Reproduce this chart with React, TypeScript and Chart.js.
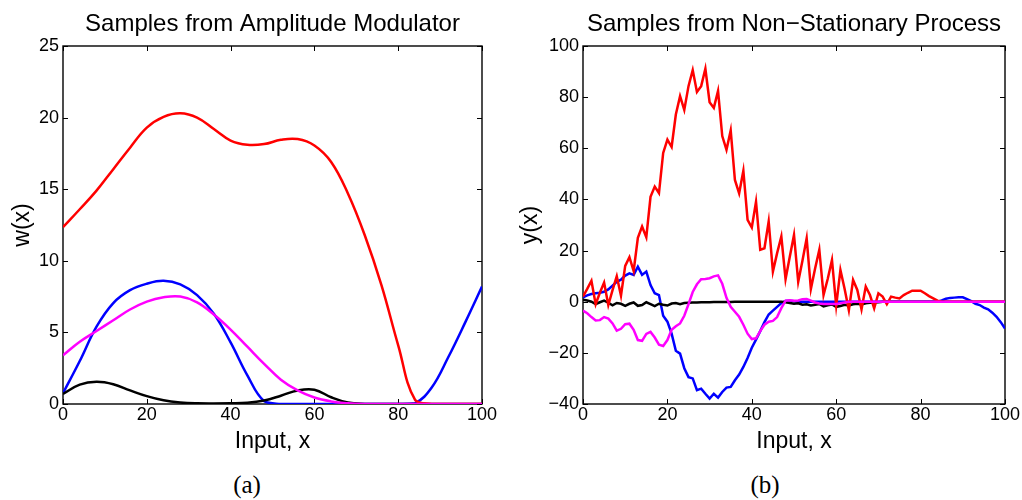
import React, { useEffect, useRef } from "react";
import { Chart, registerables } from "chart.js";

Chart.register(...registerables);

// ---------- Data: panel (a) Samples from Amplitude Modulator ----------
const leftX = [0, 4, 8, 12, 16, 20, 24, 28, 32, 36, 40, 44, 48, 52, 56, 60, 64, 68, 72, 76, 80, 84, 88, 92, 96, 100];
const leftRed = [12.35, 13.6, 14.9, 16.4, 17.9, 19.3, 20.05, 20.3, 20.0, 19.2, 18.4, 18.1, 18.15, 18.45, 18.5, 18.05, 16.9, 14.7, 11.8, 8.3, 4.1, 0.3, 0, 0, 0, 0];
const leftBlue = [0.75, 3.0, 5.4, 7.05, 7.95, 8.4, 8.6, 8.35, 7.6, 6.3, 4.3, 2.0, 0.2, 0, 0, 0, 0, 0, 0, 0, 0, 0.05, 1.15, 3.3, 5.7, 8.2];
const leftMagenta = [3.4, 4.35, 5.1, 5.85, 6.6, 7.15, 7.45, 7.5, 7.1, 6.25, 5.2, 4.0, 2.8, 1.7, 0.95, 0.45, 0.18, 0.05, 0, 0, 0, 0, 0, 0, 0, 0];
const leftBlack = [0.7, 1.35, 1.55, 1.38, 0.95, 0.55, 0.26, 0.11, 0.05, 0.04, 0.05, 0.09, 0.25, 0.58, 0.95, 1.0, 0.47, 0.1, 0, 0, 0, 0, 0, 0, 0, 0];

// ---------- Data: panel (b) Samples from Non-Stationary Process (x = 0..100) ----------
const rightRed = [
  2, 5, 8.2, -1, 3.5, 7.5, -1.3, 4.5, 10, 2.4,
  14, 17.4, 12, 25, 29.4, 25.2, 41, 45, 42.5, 58.2,
  63.4, 60.5, 73.2, 80.4, 75, 84.3, 90.6, 82, 84.3, 91.1,
  78, 75.8, 82.4, 64.8, 59.4, 67, 47.6, 42.4, 51.2, 32,
  29, 39.1, 20.3, 20.9, 31.4, 11.8, 19, 25.5, 8.8, 17.6,
  26.1, 7.8, 16, 24.8, 5, 13, 20.3, 2.6, 9, 16.3,
  -1.5, 12.4, 5, -3.3, 8.5, 4.6, -3, 5.9, 2.6, -2.6,
  3.3, 2, -1, 2, 1.6, 1.3, 2.6, 3.5, 4.3, 4.3,
  4.3, 3.3, 2.2, 1.3, 0.4, 0, 0, 0, 0, 0,
  0, 0, 0, 0, 0, 0, 0, 0, 0, 0, 0,
];
const rightBlue = [
  1.7, 2.5, 3, 3.3, 3.5, 3.9, 4.8, 6.3, 7.8, 8.6,
  10.2, 11.1, 10.5, 13.7, 10.5, 11.8, 6.5, 3.3, 2.6, -5.5,
  -7.8, -12.5, -19.2, -20.3, -26, -29.5, -30, -34.6, -34, -36,
  -37.9, -36, -37.5, -35.3, -33.6, -33.3, -30.7, -28.5, -25.5, -22,
  -18, -14.8, -11.5, -8, -5, -3.5, -2, -0.5, 0.3, 0.4,
  0.2, 0, 0, 0, 0, 0, 0, 0, 0, 0,
  0, 0, 0, 0, 0, 0, 0, 0, 0, 0,
  0, 0, 0, 0, 0, 0, 0, 0, 0, 0,
  0, 0, 0, 0, 0, 0.5, 1.2, 1.5, 1.6, 1.7,
  1.7, 1, 0.2, -0.8, -1.3, -2.3, -3, -4.3, -5.9, -8, -10.5,
];
const rightMagenta = [
  -3.5, -4.5, -6, -7.3, -7.2, -6, -6.6, -8.5, -11.3, -10.6,
  -8.8, -8.6, -11, -15, -15.3, -12.6, -11.8, -14, -16.8, -17.3,
  -15, -11, -9.6, -8.5, -5.5, -1, 3.8, 6.8, 8.8, 8.9,
  9.2, 9.9, 10.3, 7, 1.5, -2, -3.9, -5.9, -9, -12.5,
  -14.6, -14.3, -11.5, -9, -7.8, -7.5, -6, -2.5, 0.4, 0.6,
  0.4, 0.5, 1, 1.1, 0.4, -0.3, -0.7, -0.9, -0.9, -0.9,
  -0.9, -0.6, -0.3, 0, 0, 0, 0, 0, 0, 0,
  0, 0, 0, 0, 0, 0, 0, 0, 0, 0,
  0, 0, 0, 0, 0, 0, 0, 0, 0, 0,
  0, 0, 0, 0, 0, 0, 0, 0, 0, 0, 0,
];
const rightBlack = [
  0.8, 0.5, 0, -0.9, -0.2, 0.4, -0.4, -1.4, -0.5, -0.8,
  -1.6, -0.8, -0.3, -1.6, -1.3, -0.2, -0.9, -1.7, -0.8, -1.2,
  -1.5, -0.7, -0.5, -1, -0.5, -0.4, -0.3, -0.3, -0.2, -0.2,
  -0.2, -0.1, -0.1, -0.1, -0.1, -0.1, 0, 0, 0, 0,
  0, 0, 0, 0, 0, 0, 0, 0, -0.2, -0.5,
  -0.8, -0.6, -1.2, -1, -1.5, -1.2, -0.9, -1.8, -1.4, -1.1,
  -2, -1.7, -1.2, -1.5, -1, -0.8, -1.1, -0.6, -0.4, -0.3,
  -0.2, 0, 0, 0, 0, 0, 0, 0, 0, 0,
  0, 0, 0, 0, 0, 0, 0, 0, 0, 0,
  0, 0, 0, 0, 0, 0, 0, 0, 0, 0, 0,
];
const rightX = rightRed.map((_, i) => i);

const leftTitle = "Samples from Amplitude Modulator";
const rightTitle = "Samples from Non\u2212Stationary Process";
const xLabel = "Input, x";
const leftYLabel = "w(x)";
const rightYLabel = "y(x)";

const FONT = "'Liberation Sans', Arial, Helvetica, sans-serif";

const boxPlugin = {
  id: "matlabBox",
  beforeDatasetsDraw(chart: any) {
    const { ctx, chartArea: a, scales } = chart;
    const x = scales.x;
    const y = scales.y;
    ctx.save();
    ctx.strokeStyle = "#000";
    ctx.lineWidth = 1.4;
    ctx.strokeRect(a.left, a.top, a.right - a.left, a.bottom - a.top);
    const L = 5;
    ctx.lineWidth = 1;
    ctx.beginPath();
    x.ticks.forEach((t: any) => {
      const px = Math.round(x.getPixelForValue(t.value)) + 0.5;
      ctx.moveTo(px, a.bottom);
      ctx.lineTo(px, a.bottom - L);
      ctx.moveTo(px, a.top);
      ctx.lineTo(px, a.top + L);
    });
    y.ticks.forEach((t: any) => {
      const py = Math.round(y.getPixelForValue(t.value)) + 0.5;
      ctx.moveTo(a.left, py);
      ctx.lineTo(a.left + L, py);
      ctx.moveTo(a.right, py);
      ctx.lineTo(a.right - L, py);
    });
    ctx.stroke();
    ctx.restore();
  },
};

function makeSeries(xs: number[], ys: number[], color: string, order: number, smooth: boolean) {
  return {
    data: xs.map((xv, i) => ({ x: xv, y: ys[i] })),
    borderColor: color,
    backgroundColor: color,
    borderWidth: 2.5,
    pointRadius: 0,
    fill: false,
    order,
    tension: smooth ? 0.4 : 0,
    cubicInterpolationMode: "default",
  };
}

function buildConfig(opts: {
  title: string;
  yLabel: string;
  yMin: number;
  yMax: number;
  yStep: number;
  yAxisWidth: number;
  yTitlePad: number;
  rightPad: number;
  datasets: any[];
}) {
  return {
    type: "line",
    data: { datasets: opts.datasets },
    plugins: [boxPlugin],
    options: {
      animation: false,
      responsive: false,
      devicePixelRatio: 1,
      layout: { padding: { left: 0, right: opts.rightPad, top: 0, bottom: 0 } },
      plugins: {
        legend: { display: false },
        tooltip: { enabled: false },
        title: {
          display: true,
          text: opts.title,
          fullSize: false,
          color: "#000",
          font: { family: FONT, size: 24, weight: "normal", lineHeight: 1.2 },
          padding: { top: 9.5, bottom: 7.7 },
        },
      },
      scales: {
        x: {
          type: "linear",
          min: 0,
          max: 100,
          border: { display: false },
          grid: { display: false, drawTicks: false },
          ticks: {
            stepSize: 20,
            autoSkip: false,
            maxRotation: 0,
            padding: 0,
            color: "#000",
            font: { family: FONT, size: 18 },
          },
          title: {
            display: true,
            text: xLabel,
            color: "#000",
            font: { family: FONT, size: 23, lineHeight: 1.2 },
            padding: { top: 0, bottom: 5 },
          },
          afterFit: (s: any) => {
            s.height = 56;
          },
        },
        y: {
          type: "linear",
          min: opts.yMin,
          max: opts.yMax,
          border: { display: false },
          grid: { display: false, drawTicks: false },
          ticks: {
            stepSize: opts.yStep,
            autoSkip: false,
            padding: 4,
            color: "#000",
            font: { family: FONT, size: 18 },
            callback: (v: any) => String(v).replace("-", "\u2212"),
          },
          title: {
            display: true,
            text: opts.yLabel,
            color: "#000",
            font: { family: FONT, size: 23, lineHeight: 1.2 },
            padding: { top: opts.yTitlePad, bottom: 0 },
          },
          afterFit: (s: any) => {
            s.width = opts.yAxisWidth;
          },
        },
      },
    },
  };
}

function ChartCanvas({ config, left }: { config: any; left: number }) {
  const ref = useRef<HTMLCanvasElement | null>(null);
  useEffect(() => {
    if (!ref.current) return;
    const chart = new Chart(ref.current, config);
    return () => chart.destroy();
  }, [config]);
  return (
    <canvas
      ref={ref}
      width={511}
      height={460}
      style={{ position: "absolute", left, top: 0, width: 511, height: 460 }}
    />
  );
}

const leftConfig = buildConfig({
  title: leftTitle,
  yLabel: leftYLabel,
  yMin: 0,
  yMax: 25,
  yStep: 5,
  yAxisWidth: 63,
  yTitlePad: 9,
  rightPad: 29,
  datasets: [
    makeSeries(leftX, leftMagenta, "#ff00ff", 0, true),
    makeSeries(leftX, leftRed, "#ff0000", 1, true),
    makeSeries(leftX, leftBlack, "#000000", 2, true),
    makeSeries(leftX, leftBlue, "#0000ff", 3, true),
  ],
});

const rightConfig = buildConfig({
  title: rightTitle,
  yLabel: rightYLabel,
  yMin: -40,
  yMax: 100,
  yStep: 20,
  yAxisWidth: 72,
  yTitlePad: 6,
  rightPad: 17,
  datasets: [
    makeSeries(rightX, rightMagenta, "#ff00ff", 0, false),
    makeSeries(rightX, rightRed, "#ff0000", 1, false),
    makeSeries(rightX, rightBlack, "#000000", 2, false),
    makeSeries(rightX, rightBlue, "#0000ff", 3, false),
  ],
});

const captionStyle: React.CSSProperties = {
  position: "absolute",
  top: 472,
  fontFamily: "'Liberation Serif', 'Times New Roman', serif",
  fontSize: 25,
  lineHeight: "25px",
  color: "#000",
  transform: "translateX(-50%)",
  whiteSpace: "nowrap",
};

export default function App() {
  return (
    <div
      style={{
        position: "fixed",
        left: 0,
        top: 0,
        width: 1022,
        height: 500,
        background: "#fff",
        overflow: "hidden",
      }}
    >
      <ChartCanvas config={leftConfig} left={0} />
      <ChartCanvas config={rightConfig} left={511} />
      <div style={{ ...captionStyle, left: 247 }}>(a)</div>
      <div style={{ ...captionStyle, left: 765 }}>(b)</div>
    </div>
  );
}
